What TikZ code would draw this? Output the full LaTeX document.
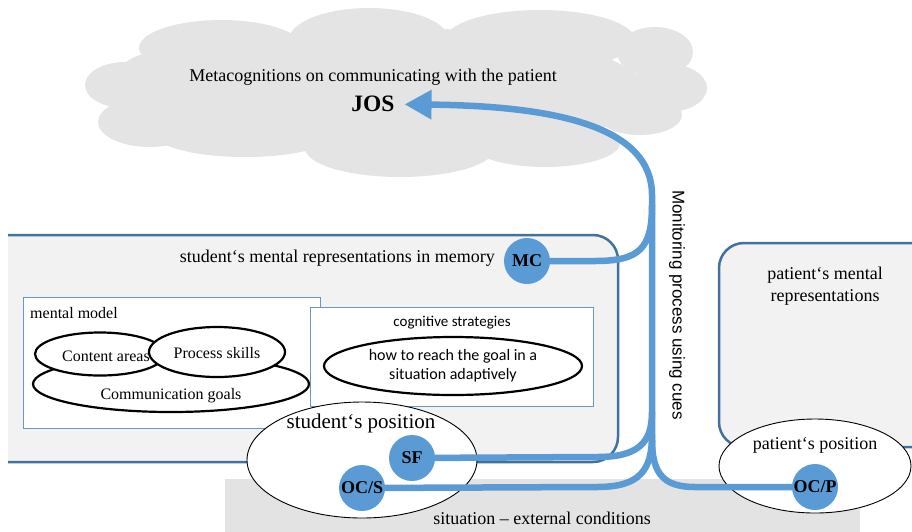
\documentclass[tikz,border=0pt]{standalone}
\usepackage{fontspec}
\setmainfont{Liberation Serif}
\newfontfamily\calfont{Carlito}
\newfontfamily\arialfont{Liberation Sans}
\usetikzlibrary{arrows.meta,shapes.geometric}
\definecolor{bluef}{HTML}{5B9BD5}
\definecolor{boxb}{HTML}{41719C}
\definecolor{thinb}{HTML}{6A96C8}
\definecolor{cloudg}{HTML}{E4E4E4}
\definecolor{boxf}{HTML}{F2F2F2}
\definecolor{sitg}{HTML}{E3E3E3}
\newcommand{\myfs}[1]{\fontsize{#1}{#1}\selectfont}
\newcommand{\myfsl}[2]{\fontsize{#1}{#2}\selectfont}
\pgfdeclarelayer{back}
\pgfdeclarelayer{mid}
\pgfsetlayers{back,mid,main}
\begin{document}
\begin{tikzpicture}[x=1pt,y=-1pt,
  bub/.style={circle,fill=bluef,minimum size=46pt,inner sep=0pt,font=\bfseries\myfs{18}},
  flow/.style={draw=bluef,line width=6.5pt},
  bigbox/.style={draw=boxb,fill=boxf,line width=2.5pt,rounded corners=25pt},
  thinbox/.style={draw=thinb,fill=white,line width=1pt,rectangle,inner sep=0pt},
  oval/.style={ellipse,draw=black,fill=white,line width=2.2pt,inner sep=0pt},
  posoval/.style={ellipse,draw=black,fill=white,line width=0.9pt,inner sep=0pt},
  txt/.style={font=\myfs{18},inner sep=0pt},
  puff/.style={fill=cloudg}
]
\useasboundingbox (0,0) rectangle (912,531);
\begin{pgfonlayer}{back}
% cloud
\fill[puff] (400,92) ellipse [x radius=245pt, y radius=64pt];
\fill[puff] (221,48) ellipse [x radius=82pt, y radius=28pt];
\fill[puff] (369,40) ellipse [x radius=80pt, y radius=32pt];
\fill[puff] (540,40) ellipse [x radius=95pt, y radius=30pt];
\fill[puff] (655,52) ellipse [x radius=38pt, y radius=25pt];
\fill[puff] (668,88) ellipse [x radius=39pt, y radius=24pt];
\fill[puff] (640,115) ellipse [x radius=42pt, y radius=20pt];
\fill[puff] (545,143) ellipse [x radius=75pt, y radius=24pt];
\fill[puff] (400,148) ellipse [x radius=95pt, y radius=29pt];
\fill[puff] (245,135) ellipse [x radius=88pt, y radius=22pt];
\fill[puff] (150,122) ellipse [x radius=52pt, y radius=25pt];
\fill[puff] (125,85) ellipse [x radius=40pt, y radius=23pt];
\fill[puff] (170,80) ellipse [x radius=55pt, y radius=30pt];
\node[txt] (meta) at (373,77) {Metacognitions on communicating with the patient};
\node[font=\bfseries\myfs{23.5},inner sep=0pt,outer sep=10pt] (JOS) at (373,104) {JOS};
% situation
\fill[sitg] (225,479) rectangle (860,540);
\node[txt] (sit) at (542,518) {situation -- external conditions};
% student box
\draw[bigbox] (8,235) -- (618,235) -- (618,462) -- (8,462);
\node[txt,anchor=east] (stumem) at (495,258) {student‘s mental representations in memory};
% patient box
\draw[bigbox] (930,243) -- (719,243) -- (719,447) -- (930,447);
\node[inner sep=0pt,align=center,font=\myfsl{18}{22}] (patmem) at (825,286) {patient‘s mental\\representations};
% mental model
\node[thinbox,anchor=north west,minimum width=297pt,minimum height=131pt] (mmbox) at (23,297) {};
\node[font=\myfs{16},inner sep=0pt,anchor=west] (mmlab) at (30,313) {mental model};
\node[oval,minimum width=276pt,minimum height=56pt] (cg) at (171,384) {};
\node[font=\myfs{16},inner sep=0pt] (cgt) at (171,396) {Communication goals};
\node[oval,minimum width=130pt,minimum height=43pt] (ca) at (100,354) {};
\node[font=\myfs{16},inner sep=0pt] (cat) at (106,356) {Content areas};
\node[oval,minimum width=136pt,minimum height=50pt] (ps) at (217,352) {};
\node[font=\myfs{16},inner sep=0pt] (pst) at (217,353) {Process skills};
% cognitive strategies
\node[thinbox,anchor=north west,minimum width=283pt,minimum height=99pt] (csbox) at (310,307) {};
\node[font=\calfont\myfs{15},inner sep=0pt] (cslab) at (452,323) {cognitive strategies};
\node[oval,minimum width=258pt,minimum height=58pt,align=center,font=\calfont\myfsl{16}{19}] (how) at (453,366) {how to reach the goal in a\\situation adaptively};
% positions
\node[posoval,minimum width=192pt,minimum height=94pt] (patpos) at (815,466) {};
\node[txt] (patposl) at (815,445) {patient‘s position};
\node[posoval,minimum width=230pt,minimum height=116pt] (stupos) at (362,460) {};
\node[font=\myfs{21},inner sep=0pt] (stuposl) at (361,423) {student‘s position};
% monitoring label
\node[font=\arialfont\myfs{17},inner sep=0pt,rotate=-90] (mon) at (677,305) {Monitoring process using cues};
\end{pgfonlayer}
% circles
\node[bub] (MC) at (527,261) {MC};
\node[bub] (SF) at (412,458) {SF};
\node[bub] (OCS) at (362,488) {OC/S};
\node[bub] (OCP) at (815,487) {OC/P};
\begin{pgfonlayer}{mid}
\draw[flow] (MC.center) -- (595,261) .. controls (640,261) and (652,248) .. (652,205);
\draw[flow] (SF.center) -- (597,457) .. controls (638,457) and (652,443) .. (652,412);
\draw[flow] (OCS.center) -- (597,487) .. controls (640,487) and (652,470) .. (652,435);
\draw[flow] (OCP.center) -- (695,487) .. controls (665,487) and (652,475) .. (652,440);
\draw[flow,-{Triangle[length=27pt,width=28pt]}] (652,452) -- (652,195) .. controls (652,128) and (560,106) .. (JOS);
\end{pgfonlayer}
\end{tikzpicture}
\end{document}
